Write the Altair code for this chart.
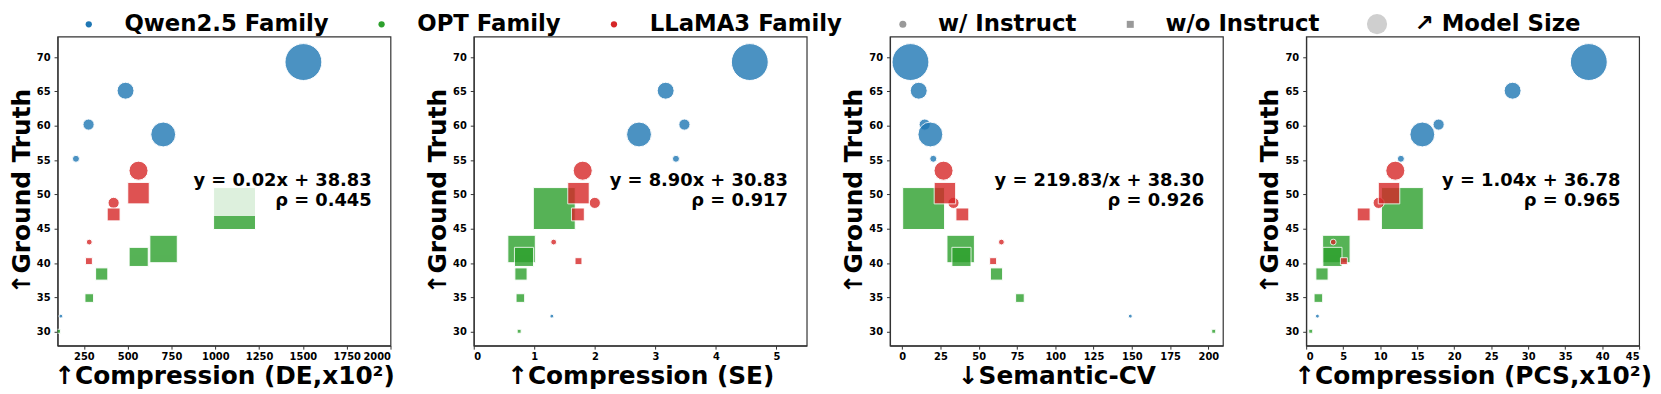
import altair as alt
import pandas as pd

# ---------------- data ----------------
family = ["Qwen2.5 Family"] * 6 + ["OPT Family"] * 6 + ["LLaMA3 Family"] * 6
instruct = (["w/ Instruct"] * 6 + ["w/o Instruct"] * 6
            + ["w/ Instruct"] * 3 + ["w/o Instruct"] * 3)
ground_truth = [69.28, 65.11, 60.18, 58.74, 55.2, 32.3,
                47.96, 42.07, 40.92, 38.43, 34.93, 30.1,
                53.47, 48.78, 43.08, 50.2, 47.1, 40.3]
# relative model size (marker area is proportional to it)
model_size = [72, 15.2, 6.6, 32.7, 2.6, 0.8,
              73, 31.3, 15.2, 6.2, 3.1, 0.65,
              19.2, 6.6, 1.8, 19.2, 6.9, 2.0]
compression_de = [1503, 488, 277, 703, 205, 119,
                  1110, 705, 563, 352, 281, 106,
                  562, 420, 281, 562, 420, 279]
compression_se = [4.56, 3.17, 3.48, 2.73, 3.34, 1.29,
                  1.33, 0.79, 0.83, 0.78, 0.77, 0.75,
                  1.80, 2.00, 1.32, 1.73, 1.72, 1.73]
semantic_cv = [5.4, 10.8, 14.7, 18.4, 20.3, 149.0,
               14.0, 38.2, 38.7, 61.6, 76.9, 203.5,
               27.0, 33.5, 64.8, 27.9, 39.3, 59.4]
compression_pcs = [38.2, 27.9, 17.9, 15.7, 12.8, 1.52,
                   13.0, 4.08, 3.55, 2.14, 1.65, 0.62,
                   12.05, 9.8, 3.66, 11.2, 7.77, 5.1]

panel_fields = ["de", "se", "cv", "pcs"]
panel_titles = ["↑Compression (DE,x10²)", "↑Compression (SE)",
                "↓Semantic-CV", "↑Compression (PCS,x10²)"]
panel_domains = [[100, 2000], [0, 5.5], [-8, 209.5], [0, 45]]
panel_ticks = [[250, 500, 750, 1000, 1250, 1500, 1750, 2000],
               [0, 1, 2, 3, 4, 5],
               [0, 25, 50, 75, 100, 125, 150, 175, 200],
               [0, 5, 10, 15, 20, 25, 30, 35, 40, 45]]
fit_equations = ["y = 0.02x + 38.83", "y = 8.90x + 30.83",
                 "y = 219.83/x + 38.30", "y = 1.04x + 36.78"]
fit_rho = ["ρ = 0.445", "ρ = 0.917", "ρ = 0.926", "ρ = 0.965"]

family_order = ["Qwen2.5 Family", "OPT Family", "LLaMA3 Family"]
family_colors = ["#1f77b4", "#2ca02c", "#d62728"]
y_ticks = [30, 35, 40, 45, 50, 55, 60, 65, 70]

df = pd.DataFrame({
    "family": family, "instruct": instruct, "gt": ground_truth,
    "msize": model_size, "de": compression_de, "se": compression_se,
    "cv": semantic_cv, "pcs": compression_pcs,
})

# ---------------- styling ----------------
FONT = "DejaVu Sans"
W, H = 336, 312
K = 24.5          # px^2 of marker per unit of model size
LEG_Y = -24

legend_common = dict(orient="none", direction="horizontal", title=None,
                     labelFont=FONT, labelFontSize=23, labelFontWeight="bold",
                     labelColor="black", labelLimit=600, padding=0,
                     symbolStrokeWidth=0, symbolOpacity=1)

color_legend = alt.Legend(legendX=20, legendY=LEG_Y,
                          symbolType="circle", symbolSize=40,
                          labelOffset=24.5, columnPadding=41.5, **legend_common)
shape_legend = alt.Legend(legendX=841.5, legendY=LEG_Y,
                          symbolSize=50, symbolFillColor="#999999",
                          labelOffset=24, columnPadding=42.5, **legend_common)
size_legend = alt.Legend(legendX=1320, legendY=LEG_Y,
                         values=[415.5], labelExpr="'↗ Model Size'",
                         symbolType="circle", symbolFillColor="#cfcfcf",
                         labelOffset=26.5, **legend_common)


def panel(i):
    field = panel_fields[i]
    pts = alt.Chart(df).transform_calculate(
        sz=f"datum.instruct == 'w/ Instruct' ? PI / 4 * {K} * datum.msize : {K} * datum.msize"
    ).mark_point(filled=True, opacity=0.8, stroke="white", strokeWidth=1,
                 clip=True).encode(
        x=alt.X(f"{field}:Q",
                scale=alt.Scale(domain=panel_domains[i], nice=False, zero=False),
                axis=alt.Axis(values=panel_ticks[i], title=panel_titles[i],
                              format="d", labelPadding=2, titlePadding=3)),
        y=alt.Y("gt:Q", scale=alt.Scale(domain=[28, 73], nice=False, zero=False),
                axis=alt.Axis(values=y_ticks, title="↑Ground Truth",
                              labelPadding=4, titlePadding=2)),
        color=alt.Color("family:N",
                        scale=alt.Scale(domain=family_order, range=family_colors),
                        legend=color_legend),
        shape=alt.Shape("instruct:N",
                        scale=alt.Scale(domain=["w/ Instruct", "w/o Instruct"],
                                        range=["circle", "square"]),
                        legend=shape_legend),
        size=alt.Size("sz:Q", scale=alt.Scale(domain=[0, 2000], range=[0, 2000]),
                      legend=size_legend),
    )
    ann = alt.Chart(pd.DataFrame({"eq": [fit_equations[i]], "rho": [fit_rho[i]]}))
    right = W - 19
    box_left = right - 10.6 * len(fit_equations[i]) - 7
    box = ann.mark_rect(fill="white", opacity=0.8).encode(
        x=alt.value(box_left), x2=alt.value(right + 7),
        y=alt.value(H * 0.425), y2=alt.value(H * 0.581))
    txt_style = dict(align="right", baseline="alphabetic", font=FONT,
                     fontSize=18, fontWeight="bold", color="black")
    t1 = ann.mark_text(**txt_style).encode(
        x=alt.value(right), y=alt.value(H * 0.485), text="eq:N")
    t2 = ann.mark_text(**txt_style).encode(
        x=alt.value(right), y=alt.value(H * 0.549), text="rho:N")
    return alt.layer(pts, box, t1, t2).properties(width=W, height=H)


chart = alt.hconcat(*[panel(i) for i in range(4)], spacing=84, bounds="flush")
chart = chart.properties(
    padding={"top": 3, "left": 0, "right": 0, "bottom": 0}
).configure_view(
    stroke="#333333", strokeWidth=1.2
).configure_axis(
    labelFont=FONT, labelFontSize=10, labelFontWeight="bold", labelColor="black",
    titleFont=FONT, titleFontSize=25, titleFontWeight="bold", titleColor="black",
    domainColor="#333333", domainWidth=1.2, tickColor="#333333",
    tickSize=3.5, tickWidth=1, grid=False,
)

chart.save("out.html", embed_options={"renderer": "svg", "actions": False})
